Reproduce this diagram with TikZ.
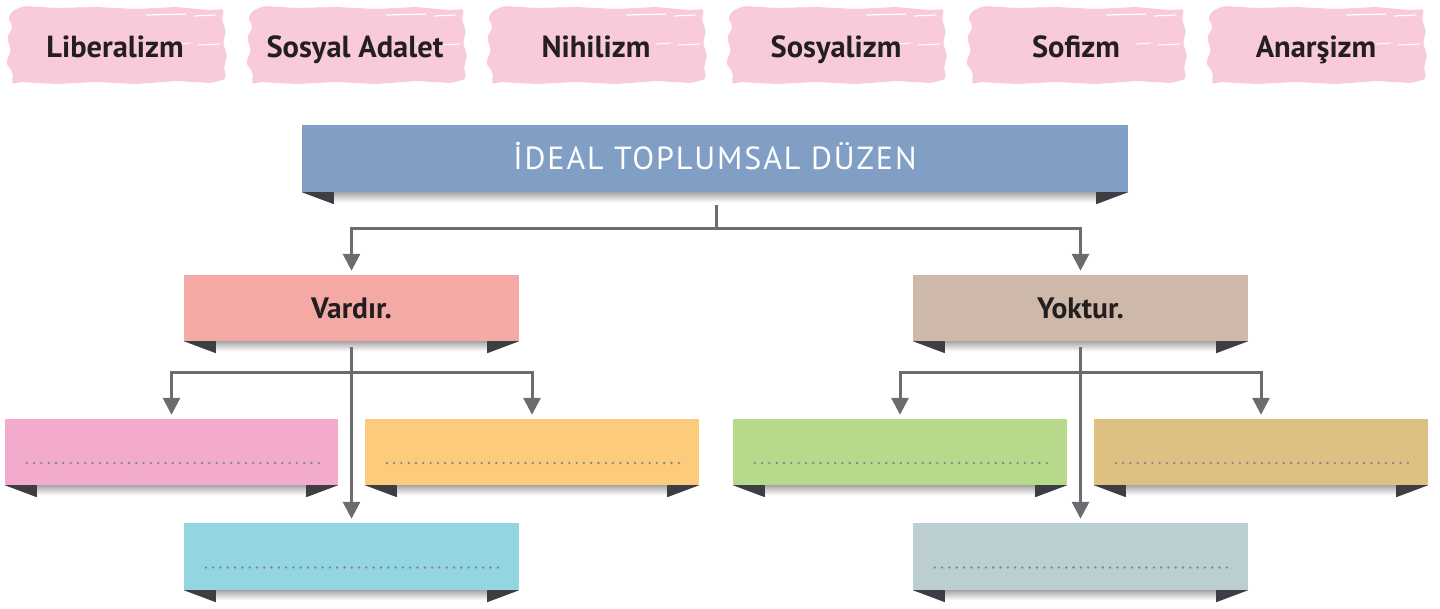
\documentclass[tikz,border=0pt]{standalone}
\usepackage{fontspec}
\setmainfont{PT Sans}
\newfontfamily\titlefont[LetterSpace=6]{PT Sans}
\usetikzlibrary{arrows.meta,calc}
\definecolor{brushpink}{HTML}{F8CADB}
\definecolor{mainblue}{HTML}{819FC4}
\definecolor{vcol}{HTML}{F5A9A4}
\definecolor{ycol}{HTML}{CDB8AA}
\definecolor{pinkc}{HTML}{F2ABCC}
\definecolor{orangec}{HTML}{FDCB7C}
\definecolor{cyanc}{HTML}{93D6E2}
\definecolor{greenc}{HTML}{B8D98C}
\definecolor{tanc}{HTML}{DDC183}
\definecolor{greyc}{HTML}{BBCFD1}
\definecolor{darktri}{HTML}{3D3E43}
\definecolor{linec}{HTML}{6B6C70}
\definecolor{txt}{HTML}{231F20}
\definecolor{dotc}{HTML}{858585}
\tikzset{
  brush/.pic={
    \fill[brushpink, rounded corners=3pt] (-104,-34) -- (-92,-39) -- (-60,-37) -- (-20,-38) -- (20,-36) -- (60,-38) -- (92,-35) -- (108,-36)
      -- (106,-25) -- (110,-14) -- (107,-2) -- (111,10) -- (108,22) -- (110,34)
      -- (95,38) -- (60,36) -- (20,39) -- (-20,37) -- (-60,39) -- (-95,37) -- (-104,39)
      -- (-103,28) -- (-110,18) -- (-105,5) -- (-109,-8) -- (-103,-18) -- (-108,-27) -- cycle;
    \draw[white, line width=1.2pt] (30,-30) -- (70,-31) (78,-29) -- (100,-30);
    \draw[white, line width=1pt] (60,-1) -- (75,-2) (82,0) -- (104,-1);
  },
  lbl/.style={font=\fontsize{30.5}{34}\selectfont\bfseries, text=txt, inner sep=0pt, anchor=base},
  box/.style={rectangle, inner sep=0pt, minimum width=335pt, minimum height=66pt,
    font=\fontsize{29.5}{34}\selectfont\bfseries, text=txt, text height=21pt, text depth=0pt},
  leaf/.style={box, minimum width=334pt},
  conn/.style={draw=linec, line width=3pt},
  arr/.style={conn, -{Triangle[length=17pt,width=17pt]}, shorten >=4pt},
  dotline/.style={dotc, line width=2.6pt, line cap=round, dash pattern=on 0pt off 7.3pt},
}
\newcommand{\ribbon}[1]{%
  \shade[top color=black!35, bottom color=white] ($(#1.south west)+(28,0)$) rectangle ($(#1.south east)+(-28,10)$);
  \fill[darktri] (#1.south west) -- ++(32,0) -- ++(0,12) -- cycle;
  \fill[darktri] (#1.south east) -- ++(-32,0) -- ++(0,12) -- cycle;
}
\newcommand{\dotsin}[1]{%
  \draw[dotline] ($(#1.west)+(22,11)$) -- ($(#1.east)+(-18,11)$);
}
\begin{document}
\begin{tikzpicture}[x=1pt,y=-1pt]
\useasboundingbox (0,0) rectangle (1440,608);
% brush labels
\foreach \cx in {116,356,596,836,1076,1316} { \pic at (\cx,45) {brush}; }
\node[lbl] (b1) at (115,57) {Liberalizm};
\node[lbl] (b2) at (355,57) {Sosyal Adalet};
\node[lbl] (b3) at (596,57) {Nihilizm};
\node[lbl] (b4) at (836,57) {Sosyalizm};
\node[lbl] (b5) at (1076,57) {Sofizm};
\node[lbl] (b6) at (1316,57) {Anarşizm};
% boxes
\node[box, fill=mainblue, minimum width=826pt, minimum height=67pt, font=\titlefont\fontsize{32}{36}\selectfont, text=white, text height=22pt] (main) at (715,158.5) {İDEAL TOPLUMSAL DÜZEN};
\node[box, fill=vcol] (vardir) at (351.5,308) {Vardır.};
\node[box, fill=ycol] (yoktur) at (1080.5,308) {Yoktur.};
\node[leaf, fill=pinkc, minimum width=333pt] (pink) at (171.5,452) {};
\node[leaf, fill=orangec] (orange) at (532,452) {};
\node[leaf, fill=greenc] (green) at (900,452) {};
\node[leaf, fill=tanc] (tan) at (1261,452) {};
\node[box, fill=cyanc, minimum height=67pt] (cyan) at (351.5,556.5) {};
\node[box, fill=greyc, minimum height=67pt] (grey) at (1080.5,556.5) {};
\foreach \n in {main,vardir,yoktur,pink,orange,green,tan,cyan,grey} { \ribbon{\n} }
\foreach \n in {pink,orange,green,tan,cyan,grey} { \dotsin{\n} }
% connectors
\coordinate (mj) at (716,228);
\coordinate (vj) at (352,372);
\coordinate (yj) at (1080.5,372);
\draw[conn] (716,205) -- (mj);
\draw[arr] (mj) -| (vardir.north);
\draw[arr] (mj) -| (yoktur.north);
\draw[arr, shorten <=6pt] (vardir.south) -- (cyan.north);
\draw[arr] (vj) -| (pink.north);
\draw[arr] (vj) -| (orange.north);
\draw[arr, shorten <=6pt] (yoktur.south) -- (grey.north);
\draw[arr] (yj) -| (green.north);
\draw[arr] (yj) -| (tan.north);
\end{tikzpicture}
\end{document}
